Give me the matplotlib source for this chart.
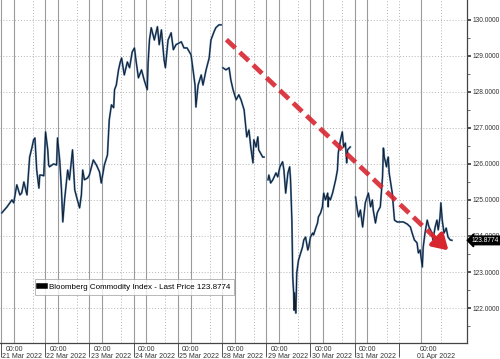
import numpy as np
import matplotlib.pyplot as plt
from matplotlib.transforms import blended_transform_factory

plt.rcParams["font.family"] = ["Liberation Sans", "DejaVu Sans"]

# x is in trading days since 21 Mar 2022 00:00 (weekend removed); NaN = session gap
T = [0.02, 0.14, 0.25, 0.29, 0.36, 0.43, 0.47, 0.52, 0.59, 0.65, 0.70, 0.74, 0.77, 0.81, 0.86,
     0.88, 0.92, 0.97, 1.01, 1.06, 1.08, 1.10, 1.19, 1.26, 1.28, 1.33, 1.37, 1.40, 1.44, 1.51,
     1.55, 1.62, 1.67, 1.73, 1.78, 1.82, 1.85, 1.89, 1.96, 2.00, 2.09, 2.16, 2.23, 2.27, 2.34,
     2.41, 2.45, 2.50, 2.55, 2.57, 2.61, 2.66, 2.70, 2.73, 2.79, 2.86, 2.91, 2.97, 3.02, 3.06,
     3.11, 3.18, 3.24, 3.31, 3.33, 3.36, 3.40, 3.47, 3.54, 3.58, 3.63, 3.69, 3.72, 3.78, 3.85,
     3.90, 3.96, 4.08, 4.14, 4.21, 4.30, 4.35, 4.39, 4.41, 4.46, 4.53, 4.57, 4.64, 4.71, 4.75,
     4.82, 4.86, 4.93, 4.98, 5.00,
     5.02, 5.09, 5.16, 5.20, 5.25, 5.32, 5.38, 5.43, 5.50, 5.56, 5.61, 5.65, 5.70, 5.72, 5.77,
     5.81, 5.83, 5.92, 5.95, 6.00,
     6.04, 6.06, 6.10, 6.15, 6.22, 6.26, 6.31, 6.37, 6.40, 6.44, 6.49, 6.53, 6.55, 6.58, 6.60,
     6.62, 6.63, 6.64, 6.67, 6.69, 6.73, 6.78, 6.82, 6.85, 6.89, 6.94, 6.96, 7.00, 7.05, 7.07,
     7.12, 7.16, 7.18, 7.23, 7.27, 7.30, 7.34, 7.39, 7.40, 7.41, 7.45, 7.50, 7.57, 7.61, 7.63,
     7.68, 7.72, 7.75, 7.79, 7.82, 7.84, 7.90, 7.95,
     8.02, 8.06, 8.09, 8.13, 8.18, 8.24, 8.31, 8.36, 8.40, 8.42, 8.47, 8.51, 8.54, 8.58, 8.63,
     8.65, 8.67, 8.72, 8.74, 8.76, 8.78, 8.83, 8.85, 8.90, 8.96, 9.10, 9.19, 9.26, 9.30, 9.35,
     9.41, 9.44, 9.48, 9.53, 9.55, 9.59, 9.64, 9.68, 9.75, 9.77, 9.82, 9.86, 9.89, 9.93, 9.95,
     9.98, 10.02, 10.07, 10.11, 10.16, 10.20]
PRICE = [124.64, 124.81, 125.00, 124.92, 125.42, 125.14, 125.19, 125.50, 125.14, 126.19, 126.44,
         126.67, 126.72, 125.83, 125.33, 125.69, 125.69, 125.67, 126.89, 126.39, 125.97, 125.92,
         126.00, 125.97, 126.72, 126.11, 125.28, 124.39, 125.00, 125.83, 125.56, 126.39, 125.28,
         125.00, 124.78, 125.14, 125.83, 125.56, 125.61, 125.69, 126.11, 125.97, 125.78, 125.47,
         125.97, 126.25, 127.22, 127.64, 127.56, 128.06, 128.19, 128.61, 128.83, 128.94, 128.47,
         128.83, 128.67, 129.11, 129.22, 128.83, 128.39, 128.61, 128.33, 128.06, 128.83, 129.44,
         129.78, 129.44, 129.81, 129.31, 129.72, 128.89, 128.67, 129.44, 129.64, 129.17, 129.31,
         129.39, 129.22, 129.22, 129.03, 128.56, 128.19, 127.58, 128.19, 128.47, 128.19, 128.61,
         128.94, 129.44, 129.67, 129.78, 129.86, 129.86, np.nan,
         128.67, 128.61, 128.67, 128.33, 128.06, 127.78, 127.92, 127.78, 127.50, 126.75, 126.94,
         126.47, 126.03, 126.67, 126.47, 126.75, 126.39, 126.19, 126.19, np.nan,
         125.56, 125.69, 125.47, 125.56, 125.75, 125.64, 125.92, 126.06, 125.83, 125.19, 125.75,
         125.92, 125.56, 124.44, 122.86, 122.42, 121.94, 122.42, 121.86, 122.97, 123.33, 123.53,
         123.69, 123.89, 123.97, 123.61, 123.69, 123.97, 124.08, 124.03, 124.22, 124.36, 124.53,
         124.64, 124.81, 125.19, 125.00, 125.19, 124.81, 125.08, 125.00, 125.19, 125.56, 125.83,
         126.31, 126.67, 126.89, 126.47, 126.58, 126.03, 126.39, 126.47, np.nan,
         125.08, 124.72, 124.53, 124.72, 124.25, 124.92, 125.19, 124.81, 125.00, 124.72, 124.36,
         124.64, 124.72, 124.81, 125.64, 126.44, 126.19, 125.92, 126.11, 126.19, 125.75, 125.36,
         125.19, 124.44, 124.39, 124.39, 124.33, 124.25, 124.08, 123.89, 123.81, 123.53, 123.61,
         123.14, 123.69, 124.08, 124.44, 124.25, 124.08, 123.89, 124.25, 124.44, 124.17, 124.53,
         124.92, 124.44, 124.08, 124.22, 123.97, 123.89, 123.88]

DAY_LABELS = ["21 Mar 2022", "22 Mar 2022", "23 Mar 2022", "24 Mar 2022", "25 Mar 2022",
              "28 Mar 2022", "29 Mar 2022", "30 Mar 2022", "31 Mar 2022", "01 Apr 2022"]
DAY_LABEL_X = [0.0, 1, 2, 3, 4, 5, 6, 7, 8, 9.37]
Y_TICKS = [122, 123, 124, 125, 126, 127, 128, 129, 130]
LAST_PRICE = 123.8774
ARROW_START = (5.10, 129.45)
ARROW_END = (10.12, 123.60)

RED = "#d8262f"
GRID = "#b4b4b4"

fig = plt.figure(figsize=(5.0, 3.59), dpi=100)
ax = fig.add_axes([0.0, 0.0446, 0.934, 0.9554])
ax.set_xlim(-0.02, 10.54)
ax.set_ylim(121.03, 130.55)

# grid: dotted horizontals, solid + dotted verticals per session
for y in Y_TICKS:
    ax.axhline(y, color=GRID, lw=0.7, ls=(0, (1, 2)), zorder=0)
for d in range(9):
    ax.axvline(d, color="#9a9a9a", lw=0.8, zorder=0)
    ax.axvline(d + 0.29, color="#9a9a9a", lw=0.8, zorder=0)
    ax.axvline(d + 0.72, color=GRID, lw=0.7, ls=(0, (1, 2)), zorder=0)
ax.axvline(9.0, color=GRID, lw=0.7, ls=(0, (1, 2)), zorder=0)
ax.axvline(9.5, color="#9a9a9a", lw=0.8, zorder=0)
ax.axvline(9.96, color=GRID, lw=0.7, ls=(0, (1, 2)), zorder=0)

ax.plot(T, PRICE, color="#5a88b8", lw=1.4, zorder=2)
ax.plot(T, PRICE, color="#141c28", lw=0.7, zorder=3,
        label=f"Bloomberg Commodity Index - Last Price {LAST_PRICE:.4f}")

# red dashed trend arrow
frac = 0.93
mid = (ARROW_START[0] + (ARROW_END[0] - ARROW_START[0]) * frac,
       ARROW_START[1] + (ARROW_END[1] - ARROW_START[1]) * frac)
ax.plot([ARROW_START[0], mid[0]], [ARROW_START[1], mid[1]], color=RED, lw=3.4,
        dashes=(2.6, 1.3), zorder=4, alpha=0.9)
ax.annotate("", xy=ARROW_END, xytext=mid,
            arrowprops=dict(arrowstyle="-|>,head_length=0.9,head_width=0.55",
                            color=RED, lw=3.0, shrinkA=0, shrinkB=0), zorder=4)

# axes styling
for s in ["left", "top"]:
    ax.spines[s].set_visible(False)
for s in ["right", "bottom"]:
    ax.spines[s].set_color("#444444")
    ax.spines[s].set_linewidth(0.9)
ax.yaxis.tick_right()
ax.set_yticks(Y_TICKS)
ax.set_yticklabels([f"{v:.4f}" for v in Y_TICKS])
ax.set_yticks([v + 0.5 for v in Y_TICKS[:-1]] + [121.5], minor=True)
ax.tick_params(axis="y", which="major", length=3, width=1.2, pad=1.0, labelsize=4.8,
               colors="#333333")
ax.tick_params(axis="y", which="minor", length=2, width=0.6, colors="#555555")
ax.set_xticks(range(10))
ax.set_xticklabels([])
ax.tick_params(axis="x", which="major", length=10, width=0.7, colors="#555555")

trans = blended_transform_factory(ax.transData, ax.transAxes)
for x, lab in zip(DAY_LABEL_X, DAY_LABELS):
    ax.text(x + 0.1, -0.008, "00:00", transform=trans, ha="left", va="top",
            fontsize=5.0, color="#333333", clip_on=False)
    ax.text(x + 0.03, -0.03, lab, transform=trans, ha="left", va="top",
            fontsize=5.0, color="#333333", clip_on=False)

# last price tag
ax.text(1.01, LAST_PRICE, f"{LAST_PRICE:.4f}",
        transform=blended_transform_factory(ax.transAxes, ax.transData),
        ha="left", va="center", fontsize=4.8, color="white", clip_on=False, zorder=10,
        bbox=dict(boxstyle="larrow,pad=0.12", fc="black", ec="black"))

leg = ax.legend(loc="lower left", bbox_to_anchor=(0.075, 0.14), fontsize=5.8,
                frameon=True, fancybox=False, edgecolor="#999999", handlelength=0.8,
                handletextpad=0.4, borderpad=0.5, borderaxespad=0)
leg.get_frame().set_linewidth(0.6)
for h in leg.legend_handles:
    h.set_linewidth(4)
    h.set_color("black")

fig.savefig("out.png", dpi=100)
